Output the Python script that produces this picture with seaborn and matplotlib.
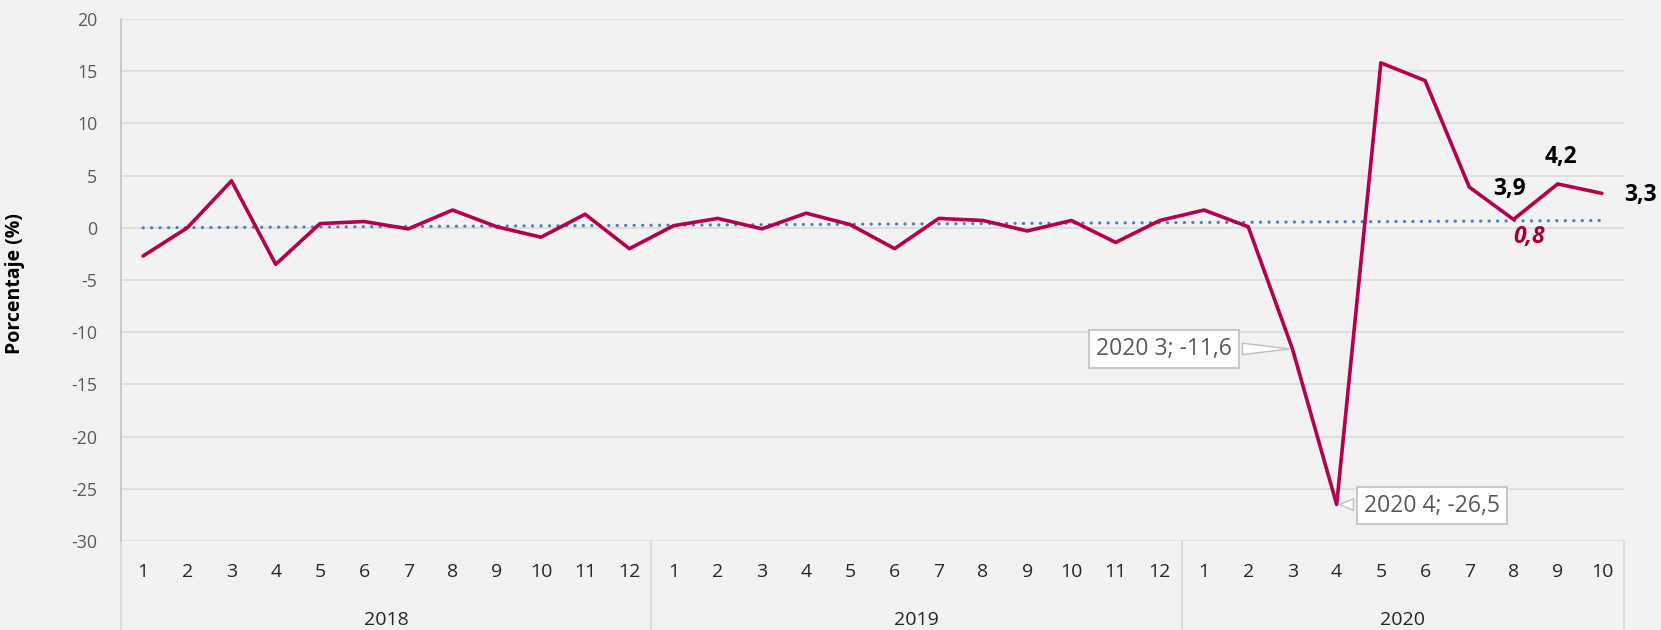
import numpy as np
import pandas as pd
import matplotlib
matplotlib.use("Agg")
import matplotlib.pyplot as plt
import matplotlib.transforms as mtransforms
import seaborn as sns

# ---- data ----
years = ["2018", "2019", "2020"]
months_2018 = [1, 2, 3, 4, 5, 6, 7, 8, 9, 10, 11, 12]
months_2019 = [1, 2, 3, 4, 5, 6, 7, 8, 9, 10, 11, 12]
months_2020 = [1, 2, 3, 4, 5, 6, 7, 8, 9, 10]
values_2018 = [-2.7, 0.0, 4.5, -3.5, 0.4, 0.6, -0.1, 1.7, 0.1, -0.9, 1.3, -2.0]
values_2019 = [0.2, 0.9, -0.1, 1.4, 0.3, -2.0, 0.9, 0.7, -0.3, 0.7, -1.4, 0.7]
values_2020 = [1.7, 0.1, -11.6, -26.5, 15.8, 14.1, 3.9, 0.8, 4.2, 3.3]
trend_ends = [0.0, 0.7]
yticks = [20, 15, 10, 5, 0, -5, -10, -15, -20, -25, -30]

# ---- build table ----
rows = []
for yr, ms, vs in zip(years, [months_2018, months_2019, months_2020],
                      [values_2018, values_2019, values_2020]):
    for m, v in zip(ms, vs):
        rows.append({"year": yr, "month": m, "value": v})
df = pd.DataFrame(rows)
df["pos"] = np.arange(len(df))
n = len(df)

BG = "#F2F2F2"
GRID = "#D9D9D9"
LINE = "#B5004B"
DOT = "#4A7EC0"

sns.set_style("white", {"axes.facecolor": BG, "figure.facecolor": BG})
plt.rcParams["font.family"] = ["Open Sans", "DejaVu Sans"]

fig = plt.figure(figsize=(16.61, 6.30), dpi=100, facecolor=BG)
W, H = 1661, 630
left, right, top, bottom = 121, 1624, 19, 541
ax = fig.add_axes([left / W, 1 - bottom / H, (right - left) / W, (bottom - top) / H])
ax.set_facecolor(BG)

ax.set_xlim(-0.5, n - 0.5)
ax.set_ylim(-30, 20)
ax.set_yticks(yticks)
ax.set_yticklabels([str(t) for t in yticks], fontsize=12.8, color="#595959")
ax.tick_params(axis="y", length=0, pad=17)
for t in yticks:
    ax.axhline(t, color=GRID, lw=1.1, zorder=0)

# trend (dotted)
trend_df = pd.DataFrame({"pos": [0, n - 1], "value": trend_ends})
sns.lineplot(data=trend_df, x="pos", y="value", ax=ax, color=DOT, lw=2.3,
             linestyle=(0, (0.05, 2.6)), zorder=2)
ax.lines[-1].set_dash_capstyle("round")

# main series
sns.lineplot(data=df, x="pos", y="value", ax=ax, color=LINE, lw=2.6, zorder=3)

# spines
for s in ["top", "right", "bottom"]:
    ax.spines[s].set_visible(False)
ax.spines["left"].set_color("#BFBFBF")
ax.spines["left"].set_linewidth(1.1)

# x axis: months
ax.set_xticks(df["pos"])
ax.set_xticklabels([str(m) for m in df["month"]], fontsize=14, color="#262626")
ax.tick_params(axis="x", length=0, pad=16)
ax.set_xlabel("")
ax.set_ylabel("Porcentaje (%)", fontsize=14, fontweight="bold", color="#000000")
ax.yaxis.set_label_coords((25 - left) / (right - left), (bottom - 284) / (bottom - top))

# year labels and separators
trans = mtransforms.blended_transform_factory(ax.transData, ax.transAxes)
y_year = -(620 - bottom) / (bottom - top)
y_end = -(630 - bottom) / (bottom - top)
start = 0
bounds = [-0.5]
for yr, ms in zip(years, [months_2018, months_2019, months_2020]):
    cnt = len(ms)
    center = start + (cnt - 1) / 2
    ax.text(center, y_year, yr, transform=trans, ha="center", va="center",
            fontsize=14, color="#262626")
    start += cnt
    bounds.append(start - 0.5)
for b in bounds:
    ax.plot([b, b], [0, y_end], transform=trans, color=GRID, lw=1.3, clip_on=False)

# data labels
vals = df["value"].to_numpy()
i7 = 24 + 6
i8 = 24 + 7
i9 = 24 + 8
i10 = 24 + 9
lab_kw = dict(fontsize=16.5, fontweight="bold", color="#000000", ha="center", va="center")
ax.text(i7 + 0.9, vals[i7] - 0.2, f"{vals[i7]:.1f}".replace(".", ","), **lab_kw)
ax.text(i9 + 0.07, vals[i9] + 2.6, f"{vals[i9]:.1f}".replace(".", ","), **lab_kw)
ax.text(i10 + 0.87, vals[i10] - 0.2, f"{vals[i10]:.1f}".replace(".", ","), **lab_kw)
ax.text(i8 + 0.35, vals[i8] - 1.7, f"{vals[i8]:.1f}".replace(".", ","), fontsize=16.5,
        fontweight="bold", fontstyle="italic", color="#A0003C", ha="center", va="center")

# callouts
i3 = 24 + 2
i4 = 24 + 3
box = dict(boxstyle="square,pad=0.3", fc="white", ec="#BFBFBF", lw=1.2)
arrow = dict(arrowstyle="wedge,tail_width=0.5,shrink_factor=0.5", fc="white",
             ec="#BFBFBF", lw=1.0)
ax.annotate(f"2020 3; {vals[i3]:.1f}".replace(".", ","), xy=(i3, vals[i3]),
            xytext=(i3 - 2.9, vals[i3]), fontsize=16.5, color="#595959",
            ha="center", va="center", bbox=box, arrowprops=arrow, zorder=5)
ax.annotate(f"2020 4; {vals[i4]:.1f}".replace(".", ","), xy=(i4, vals[i4]),
            xytext=(i4 + 2.15, vals[i4] - 0.1), fontsize=16.5, color="#595959",
            ha="center", va="center", bbox=box, arrowprops=arrow, zorder=5)

fig.savefig("out.png", dpi=100, facecolor=BG)
